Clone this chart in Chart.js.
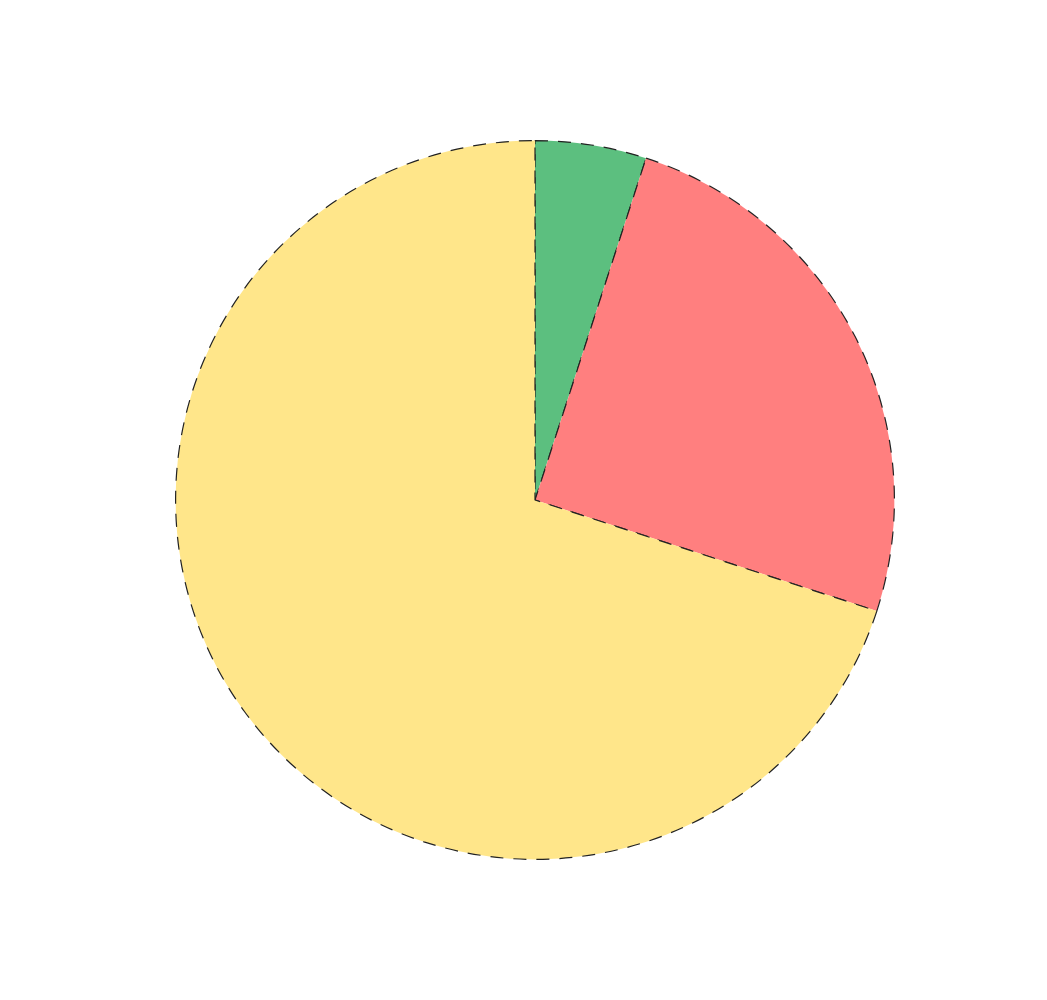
<!DOCTYPE html>
<html>
<head>
<meta charset="utf-8">
<script src="https://cdn.jsdelivr.net/npm/chart.js@4"></script>
<style>
  html, body { margin: 0; padding: 0; background: #fff; }
  #wrap { width: 1047px; height: 1000px; position: relative; }
</style>
</head>
<body>
<div id="wrap"><canvas id="pieChart"></canvas></div>
<script>
const labels = ['Green', 'Red', 'Yellow'];
const values = [5, 25, 70];
const colors = ['#5cbf7f', '#ff7f7f', '#ffe68a'];

document.addEventListener('DOMContentLoaded', () => {
  const ctx = document.getElementById('pieChart').getContext('2d');
  new Chart(ctx, {
    type: 'pie',
    data: {
      labels,
      datasets: [{
        data: values,
        backgroundColor: colors,
        borderColor: '#222',
        borderWidth: 1.2,
        borderDash: [13, 10],
        borderAlign: 'center'
      }]
    },
    options: {
      responsive: true,
      maintainAspectRatio: false,
      animation: false,
      layout: { padding: { top: 140, bottom: 140, left: 175, right: 152 } },
      plugins: {
        legend: { display: false },
        tooltip: { enabled: false }
      }
    }
  });
});
</script>
</body>
</html>
